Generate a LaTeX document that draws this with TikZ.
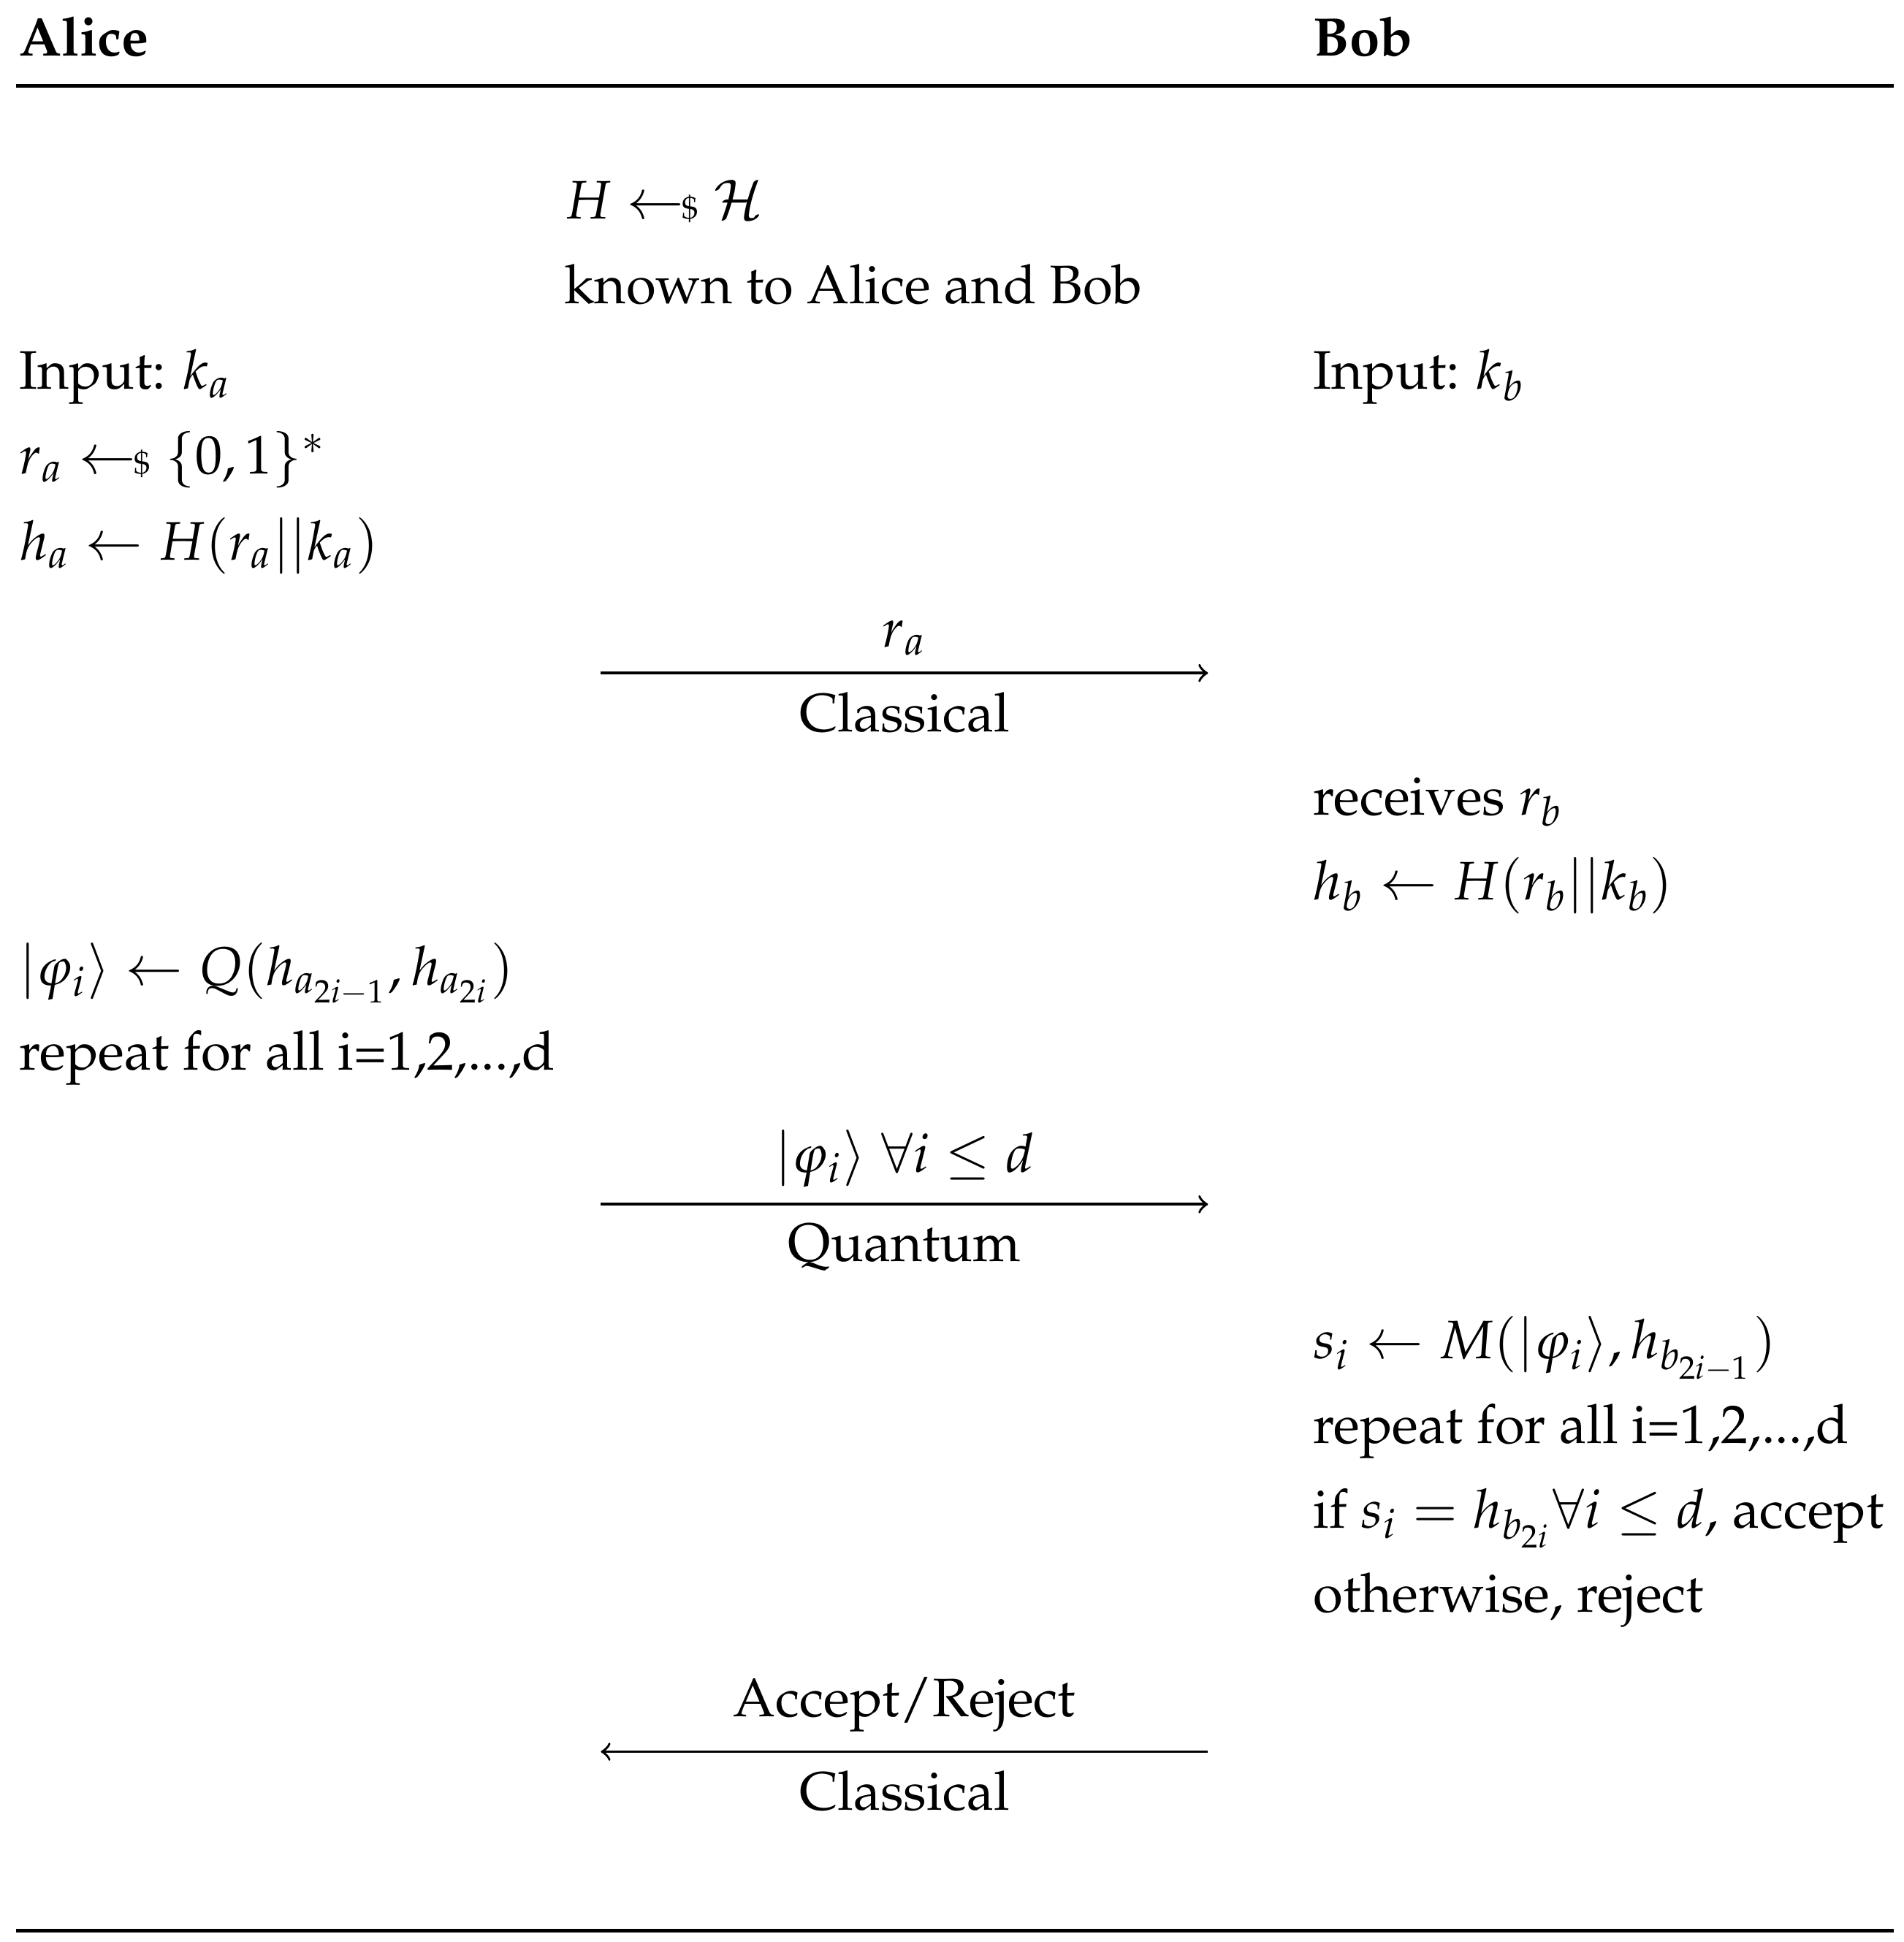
\documentclass[tikz,border=0pt]{standalone}
\usepackage[T1]{fontenc}
\usepackage{mathpazo}
\usepackage{amssymb}
\newcommand{\samp}{\mathrel{\leftarrow\!\!{\scriptscriptstyle\$}}}
\begin{document}
\begin{tikzpicture}[x=0.01cm,y=-0.01cm,
  txt/.style={anchor=base west,inner sep=0pt,font=\fontsize{12.4}{15}\selectfont},
  lbl/.style={anchor=base,inner sep=0pt,font=\fontsize{12.4}{15}\selectfont},
  hd/.style={anchor=base west,inner sep=0pt,font=\fontsize{12.4}{15}\selectfont\bfseries},
  msg/.style={->,line width=0.6pt,>=to}]
\useasboundingbox (0,0) rectangle (1530,1561);
\node[hd] (alice) at (15,45) {Alice};
\node[hd] (bob) at (1055,45) {Bob};
\coordinate (t1) at (13,69); \coordinate (t2) at (1522,69);
\draw[line width=0.8pt] (t1) -- (t2);
\coordinate (b1) at (13,1552); \coordinate (b2) at (1522,1552);
\draw[line width=0.8pt] (b1) -- (b2);
\node[txt] (s1) at (453,176) {$H \samp \mathcal{H}$};
\node[txt] (s2) at (453,244) {known to Alice and Bob};
\node[txt] (a1) at (15,313) {Input: $k_a$};
\node[txt] (a2) at (15,381) {$r_a \samp \{0,1\}^*$};
\node[txt] (a3) at (15,450) {$h_a \leftarrow H(r_a||k_a)$};
\node[txt] (b1t) at (1055,313) {Input: $k_b$};
\coordinate (m1s) at (483,541); \coordinate (m1e) at (971,541);
\draw[msg] (m1s) -- (m1e);
\node[lbl] (m1a) at (727,520) {$r_a$};
\node[lbl] (m1b) at (727,588) {Classical};
\node[txt] (b2t) at (1055,655) {receives $r_b$};
\node[txt] (b3t) at (1055,723) {$h_b \leftarrow H(r_b||k_b)$};
\node[txt] (a4) at (15,792) {$|\varphi_i\rangle \leftarrow Q(h_{a_{2i-1}},h_{a_{2i}})$};
\node[txt] (a5) at (15,860) {repeat for all i=1,2,...,d};
\coordinate (m2s) at (483,968); \coordinate (m2e) at (971,968);
\draw[msg] (m2s) -- (m2e);
\node[lbl] (m2a) at (727,942) {$|\varphi_i\rangle\;\forall i\leq d$};
\node[lbl] (m2b) at (727,1014) {Quantum};
\node[txt] (b4t) at (1055,1092) {$s_i \leftarrow M(|\varphi_i\rangle,h_{b_{2i-1}})$};
\node[txt] (b5t) at (1055,1160) {repeat for all i=1,2,...,d};
\node[txt] (b6t) at (1055,1228) {if $s_i=h_{b_{2i}}\forall i\leq d$, accept};
\node[txt] (b7t) at (1055,1296) {otherwise, reject};
\coordinate (m3s) at (971,1408); \coordinate (m3e) at (483,1408);
\draw[msg] (m3s) -- (m3e);
\node[lbl] (m3a) at (727,1380) {Accept/Reject};
\node[lbl] (m3b) at (727,1455) {Classical};
\end{tikzpicture}
\end{document}
